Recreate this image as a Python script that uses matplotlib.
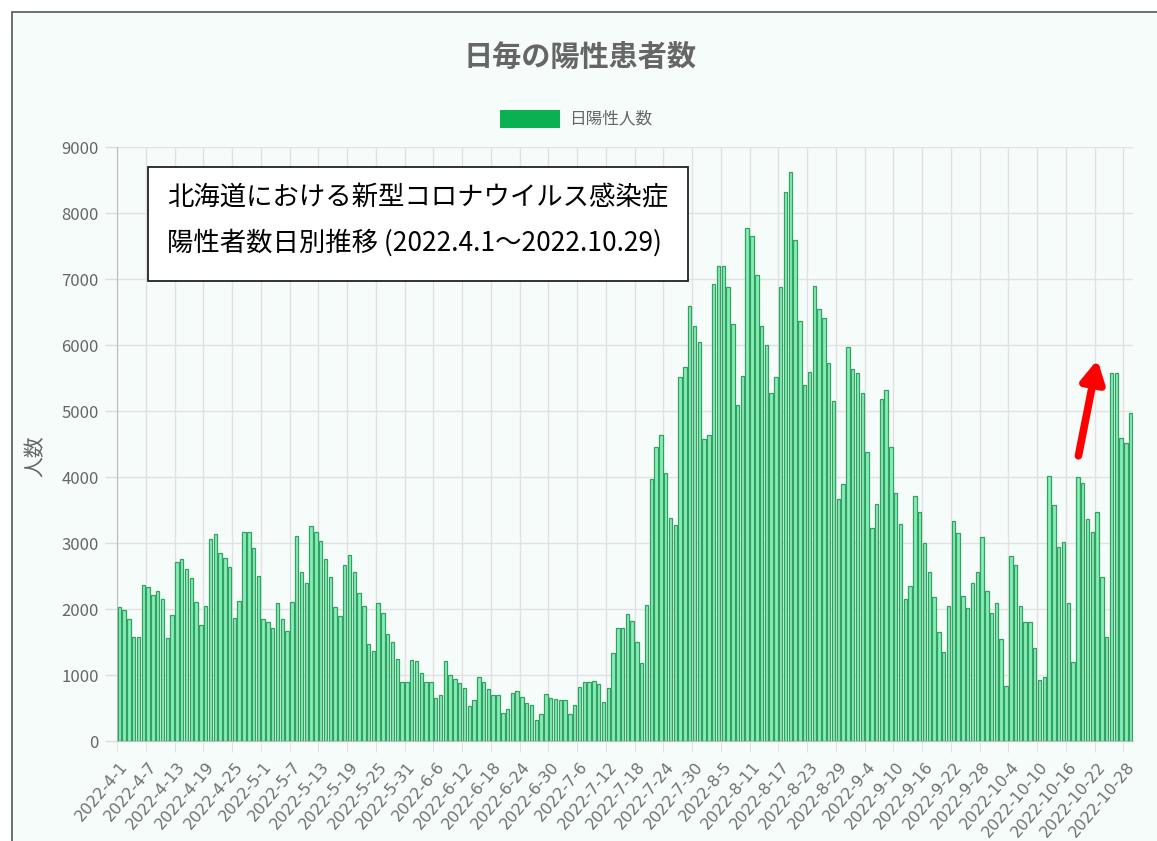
import datetime as dt
import numpy as np
import matplotlib
matplotlib.use("Agg")
import matplotlib.pyplot as plt
from matplotlib.patches import Rectangle

plt.rcParams['font.family'] = ['Noto Sans CJK JP', 'DejaVu Sans']

# 日陽性人数 2022-4-1 .. 2022-10-29
counts = [
    2035, 1985, 1843, 1580, 1580, 2360, 2340, 2210, 2270, 2150,
    1555, 1910, 2717, 2760, 2606, 2465, 2110, 1757, 2050, 3055,
    3136, 2843, 2778, 2631, 1868, 2126, 3160, 3160, 2919, 2500,
    1843, 1800, 1717, 2085, 1843, 1667, 2100, 3111, 2560, 2400,
    3262, 3172, 3030, 2757, 2490, 2025, 1894, 2667, 2818, 2555,
    2237, 2050, 1470, 1364, 2085, 1944, 1621, 1505, 1237, 900,
    900, 1227, 1212, 1035, 900, 900, 646, 697, 1217, 1000,
    934, 874, 808, 530, 621, 965, 899, 788, 697, 697,
    429, 480, 722, 758, 662, 581, 545, 318, 409, 712,
    646, 636, 621, 621, 409, 545, 813, 899, 899, 914,
    864, 596, 798, 1338, 1707, 1717, 1924, 1823, 1505, 1177,
    2060, 3965, 4460, 4636, 4066, 3374, 3273, 5520, 5672, 6591,
    6293, 6050, 4571, 4636, 6924, 7197, 7197, 6874, 6318, 5091,
    5530, 7768, 7652, 7061, 6288, 6000, 5278, 5520, 6874, 8323,
    8626, 7591, 6364, 5394, 5596, 6890, 6545, 6404, 5732, 5157,
    3662, 3889, 5965, 5631, 5571, 5278, 4374, 3232, 3586, 5177,
    5318, 4449, 3753, 3288, 2152, 2348, 3717, 3475, 2995, 2566,
    2187, 1657, 1354, 2045, 3333, 3157, 2197, 2010, 2389, 2566,
    3086, 2273, 1934, 2096, 1540, 833, 2803, 2667, 2051, 1808,
    1808, 1404, 924, 965, 4020, 3576, 2944, 3020, 2086, 1202,
    4005, 3914, 3364, 3162, 3475, 2490, 1581, 5571, 5571, 4586,
    4510, 4975,
]
start = dt.date(2022, 4, 1)
dates = [start + dt.timedelta(days=k) for k in range(len(counts))]
labels = [f"{d.year}-{d.month}-{d.day}" for d in dates]

title = "日毎の陽性患者数"
legend_label = "日陽性人数"
note_lines = ["北海道における新型コロナウイルス感染症",
              "陽性者数日別推移 (2022.4.1～2022.10.29)"]

W, H = 1157, 841
fig = plt.figure(figsize=(W / 100, H / 100), dpi=100)
fig.patch.set_facecolor('white')
# outer frame of the page
fig.add_artist(Rectangle((12 / W, -0.1), 1.2, 1.1 - 12 / H,
                         transform=fig.transFigure, facecolor='#f5fcf9',
                         edgecolor='#555555', linewidth=1.2, zorder=-10))

ax = fig.add_axes([117 / W, 1 - 741 / H, (1133 - 117) / W, (741 - 147) / H])
ax.set_facecolor('none')

x = np.arange(len(counts))
ax.bar(x, counts, width=0.72, color='#86efb6', edgecolor='#34a064',
       linewidth=0.9, zorder=3)

ax.set_xlim(-0.5, len(counts) - 0.5)
ax.set_ylim(0, 9000)
ax.set_yticks(np.arange(0, 9001, 1000))
ax.tick_params(axis='y', colors='#dddddd', length=9, width=1,
               labelcolor='#666666', labelsize=12, pad=4)

major = x[::6]
ax.set_xticks(major)
ax.set_xticklabels([labels[k] for k in major], rotation=50, ha='right',
                   rotation_mode='anchor', color='#707070', fontsize=11.5,
                   family=['DejaVu Sans'])
ax.tick_params(axis='x', which='major', length=0, pad=13)
ax.set_xticks(np.arange(-0.5, len(counts) - 1, 6), minor=True)
ax.tick_params(axis='x', which='minor', length=8, color='#dddddd')
ax.grid(True, axis='x', which='minor', color='#e2e2e2', linewidth=1, zorder=0)
ax.grid(True, axis='y', which='major', color='#e2e2e2', linewidth=1, zorder=0)
ax.set_axisbelow(True)

for side in ['top', 'right']:
    ax.spines[side].set_visible(False)
ax.spines['left'].set_color('#bdbdbd')
ax.spines['bottom'].set_color('#bdbdbd')

ax.set_ylabel('人数', color='#666666', fontsize=15)
ax.yaxis.set_label_coords((46 - 117) / 1016, 0.48)

fig.text(580 / W, 1 - 57 / H, title, ha='center', va='center',
         fontsize=21, fontweight='bold', color='#666666')
fig.add_artist(Rectangle((500 / W, 1 - 128 / H), 60 / W, 18 / H,
                         transform=fig.transFigure, facecolor='#0bb050',
                         edgecolor='none'))
fig.text(569 / W, 1 - 119 / H, legend_label, ha='left', va='center',
         fontsize=12, color='#666666')

# note box
fig.add_artist(Rectangle((148 / W, 1 - 281 / H), 540 / W, 114 / H,
                         transform=fig.transFigure, facecolor='white',
                         edgecolor='#222222', linewidth=1.3, zorder=5))
fig.text(167 / W, 1 - 198 / H, note_lines[0], ha='left', va='center',
         fontsize=19, color='black', zorder=6)
fig.text(167 / W, 1 - 243 / H, note_lines[1], ha='left', va='center',
         fontsize=19, color='black', zorder=6)

# red arrow
ax.annotate('', xy=(204.2, 5820), xytext=(200.0, 4280),
            arrowprops=dict(arrowstyle='-|>,head_length=1.3,head_width=0.7',
                            color='#ff0000', linewidth=5.5),
            zorder=6)

fig.savefig('out.png', dpi=100)
